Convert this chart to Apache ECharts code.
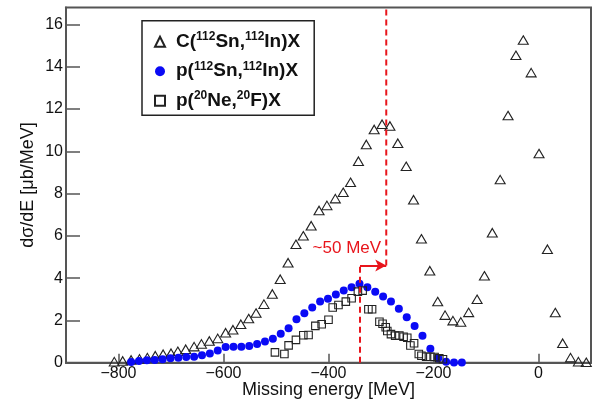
<!DOCTYPE html>
<html>
<head>
<meta charset="utf-8">
<script src="https://cdn.jsdelivr.net/npm/echarts@6/dist/echarts.min.js"></script>
<style>
  html, body { margin: 0; padding: 0; background: #fff; }
  #chart { width: 594px; height: 401px; }
</style>
</head>
<body>
<div id="chart"></div>
<script>
// C(112Sn,112In)X
const cEnergy = [-808, -792, -776, -760, -745, -730, -715, -700, -687, -672, -656, -642, -627, -611, -596, -582,
  -567, -552, -538, -523, -507, -492, -477, -462, -448, -433, -418, -403, -387, -372, -358, -343, -328, -313,
  -298, -283, -268, -252, -238, -223, -207, -192, -178, -163, -148, -133, -117, -103, -88, -73, -58, -43, -29,
  -14, 1, 17, 32, 46, 61, 76, 91];
const cSigma = [0.05, 0.08, 0.13, 0.18, 0.24, 0.33, 0.40, 0.45, 0.54, 0.64, 0.76, 0.89, 1.03, 1.15, 1.42, 1.56,
  1.82, 2.09, 2.35, 2.77, 3.25, 3.95, 4.73, 5.60, 6.00, 6.48, 7.20, 7.44, 7.76, 8.06, 8.53, 9.53, 10.32, 11.03,
  11.28, 11.20, 10.38, 9.29, 7.71, 5.86, 4.35, 2.89, 2.25, 1.99, 1.93, 2.38, 3.00, 4.11, 6.15, 8.66, 11.69, 14.54,
  15.26, 13.72, 9.89, 5.37, 2.37, 0.92, 0.24, 0.05, 0.02];

// p(112Sn,112In)X
const pSnEnergy = [-776, -761, -746, -731, -716, -701, -686, -671, -656, -641, -626, -611, -596, -581, -566, -551,
  -536, -521, -506, -491, -476, -461, -446, -431, -416, -401, -386, -371, -356, -341, -326, -311, -296, -281,
  -266, -251, -236, -221, -206, -191, -176, -161, -146];
const pSnSigma = [0.03, 0.08, 0.11, 0.13, 0.16, 0.21, 0.24, 0.27, 0.28, 0.35, 0.44, 0.58, 0.74, 0.75, 0.76, 0.79,
  0.89, 1.00, 1.13, 1.37, 1.63, 2.06, 2.34, 2.61, 2.89, 3.02, 3.22, 3.41, 3.57, 3.74, 3.57, 3.35, 3.13, 2.89,
  2.55, 2.15, 1.73, 1.27, 0.66, 0.21, 0.04, 0.01, 0.01];

// p(20Ne,20F)X
const pNeEnergy = [-502, -484, -476, -462, -448, -438, -425, -413, -400, -392, -381, -367, -356, -344, -335, -324,
  -317, -303, -297, -291, -288, -281, -273, -265, -257, -250, -244, -237, -228, -223, -214, -206, -198, -189, -182];
const pNeSigma = [0.49, 0.41, 0.82, 1.08, 1.30, 1.31, 1.74, 1.82, 2.03, 2.61, 2.73, 2.89, 3.05, 3.36, 3.41, 2.53,
  2.53, 1.94, 1.84, 1.68, 1.50, 1.35, 1.28, 1.28, 1.23, 1.18, 0.81, 0.92, 0.41, 0.33, 0.28, 0.28, 0.27, 0.21, 0.16];

// Axis ticks
const xTicks = [-800, -600, -400, -200, 0];
const yTicks = [0, 2, 4, 6, 8, 10, 12, 14, 16];

// Peak shift annotation
const peakLow = -340;
const peakHigh = -290;
const arrowLevel = 4.6;
const shiftLabel = '~50 MeV';
const shiftLabelPos = [-365, 5.4];

const X_MIN = -900, X_MAX = 100, Y_MIN = 0, Y_MAX = 16.8;

const names = {
  c: 'C(112Sn,112In)X',
  sn: 'p(112Sn,112In)X',
  ne: 'p(20Ne,20F)X'
};
const richNames = {
  [names.c]: '{g|}{b|C(}{s|112}{b|Sn,}{s|112}{b|In)X}',
  [names.sn]: '{g|}{b|p(}{s|112}{b|Sn,}{s|112}{b|In)X}',
  [names.ne]: '{g|}{b|p(}{s|20}{b|Ne,}{s|20}{b|F)X}'
};

const zip = (xs, ys) => xs.map((x, i) => [x, ys[i]]);
const fmtMinus = v => (v < 0 ? '\u2212' + Math.abs(v) : String(v));

const axisColor = '#555';
const FONT = '"Liberation Sans", Arial, Helvetica, sans-serif';
const red = '#e8141b';

const chart = echarts.init(document.getElementById('chart'), null, { renderer: 'canvas' });

chart.setOption({
  animation: false,
  backgroundColor: '#fff',
  textStyle: { fontFamily: FONT },
  grid: {
    left: 66, right: 3, top: 7.5, bottom: 38.3,
    containLabel: false,
    outerBoundsMode: 'none',
    show: true,
    borderColor: axisColor,
    borderWidth: 2,
    backgroundColor: 'transparent'
  },
  xAxis: {
    type: 'value',
    min: X_MIN, max: X_MAX,
    name: 'Missing energy [MeV]',
    nameLocation: 'middle',
    nameGap: 18,
    nameMoveOverlap: false,
    nameTextStyle: { fontSize: 18, color: '#111', fontFamily: FONT },
    axisLine: { show: true, onZero: false, lineStyle: { color: axisColor, width: 2 } },
    axisTick: { show: true, inside: true, length: 9, customValues: xTicks, lineStyle: { color: axisColor, width: 1.5 } },
    axisLabel: { customValues: xTicks, margin: 3, fontSize: 16, color: '#111', formatter: fmtMinus, fontFamily: FONT },
    splitLine: { show: false }
  },
  yAxis: {
    type: 'value',
    min: Y_MIN, max: Y_MAX,
    name: 'd\u03c3/dE [\u03bcb/MeV]',
    nameLocation: 'middle',
    nameGap: 29,
    nameMoveOverlap: false,
    nameTextStyle: { fontSize: 18, color: '#111', fontFamily: FONT },
    axisLine: { show: true, onZero: false, lineStyle: { color: axisColor, width: 2 } },
    axisTick: { show: true, inside: true, length: 14, customValues: yTicks, lineStyle: { color: axisColor, width: 1.5 } },
    axisLabel: { customValues: yTicks, margin: 3, fontSize: 16, color: '#111', fontFamily: FONT },
    splitLine: { show: false }
  },
  legend: {
    data: [names.c, names.sn, names.ne],
    orient: 'vertical',
    left: 142, top: 20.7,
    padding: [10, 14, 5, 12],
    itemWidth: 10, itemHeight: 10,
    itemGap: 9,
    backgroundColor: '#fff',
    borderColor: '#222',
    borderWidth: 1.5,
    borderRadius: 0,
    selectedMode: false,
    formatter: n => richNames[n] || n,
    textStyle: {
      fontFamily: FONT,
      rich: {
        g: { width: 6, lineHeight: 22 },
        b: { fontSize: 19, fontWeight: 'bold', color: '#111', lineHeight: 22, fontFamily: FONT },
        s: { fontSize: 12, fontWeight: 'bold', color: '#111', lineHeight: 12, verticalAlign: 'top', fontFamily: FONT }
      }
    }
  },
  series: [
    {
      name: names.c,
      type: 'scatter',
      symbol: 'triangle',
      symbolSize: [10, 8.5],
      data: zip(cEnergy, cSigma),
      itemStyle: { color: 'rgba(255,255,255,0)', borderColor: '#222', borderWidth: 1.1, opacity: 1 },
      emphasis: { disabled: true },
      z: 2
    },
    {
      name: names.sn,
      type: 'scatter',
      symbol: 'circle',
      symbolSize: 8,
      data: zip(pSnEnergy, pSnSigma),
      itemStyle: { color: '#0a0af5', opacity: 1 },
      emphasis: { disabled: true },
      z: 3
    },
    {
      name: names.ne,
      type: 'scatter',
      symbol: 'rect',
      symbolSize: 7.5,
      data: zip(pNeEnergy, pNeSigma),
      itemStyle: { color: 'rgba(255,255,255,0)', borderColor: '#222', borderWidth: 1.1, opacity: 1 },
      emphasis: { disabled: true },
      z: 4
    },
    {
      name: 'shiftLow',
      type: 'line',
      data: [[peakLow, Y_MIN], [peakLow, arrowLevel]],
      symbol: 'none',
      lineStyle: { color: red, width: 2, type: [6, 4] },
      emphasis: { disabled: true },
      z: 5,
      markLine: {
        silent: true,
        symbol: ['none', 'arrow'],
        symbolSize: [9, 11],
        lineStyle: { color: red, width: 2, type: 'solid' },
        label: { show: false },
        data: [[{ coord: [peakLow, arrowLevel] }, { coord: [peakHigh, arrowLevel] }]]
      },
      markPoint: {
        silent: true,
        symbol: 'circle',
        symbolSize: 1,
        itemStyle: { color: 'rgba(0,0,0,0)' },
        label: { show: true, position: 'inside', formatter: shiftLabel, color: red, fontSize: 17, fontFamily: FONT },
        data: [{ coord: shiftLabelPos }]
      }
    },
    {
      name: 'shiftHigh',
      type: 'line',
      data: [[peakHigh, arrowLevel], [peakHigh, Y_MAX]],
      symbol: 'none',
      lineStyle: { color: red, width: 2, type: [6, 4] },
      emphasis: { disabled: true },
      z: 5
    }
  ]
});
</script>
</body>
</html>
